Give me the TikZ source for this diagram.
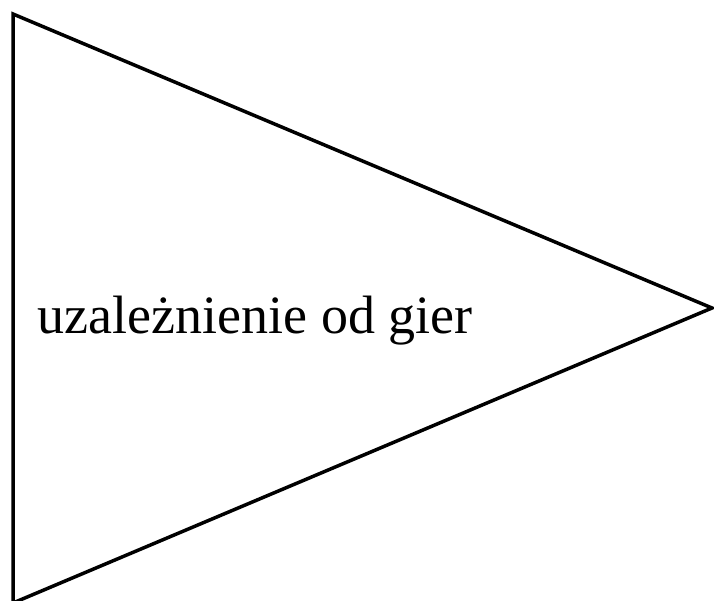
\documentclass[tikz,border=0pt]{standalone}
\usepackage{fontspec}
\setmainfont{Liberation Serif}
\usetikzlibrary{positioning}

\begin{document}
\begin{tikzpicture}[
    x=1pt, y=-1pt,
    edge/.style={draw, line width=3.5pt, line join=miter},
    lbl/.style={font=\fontsize{54}{60}\selectfont, inner sep=0pt, anchor=base west},
  ]
  \useasboundingbox (0,0) rectangle (714,600);

  % triangle
  \coordinate (top) at (13,14);
  \coordinate (bot) at (13,603);
  \coordinate (tip) at (712,308);
  \draw[edge] (top) -- (tip) -- (bot) -- cycle;

  \node[lbl] (txt) at (37.5,333) {uzależnienie od gier};
\end{tikzpicture}
\end{document}
